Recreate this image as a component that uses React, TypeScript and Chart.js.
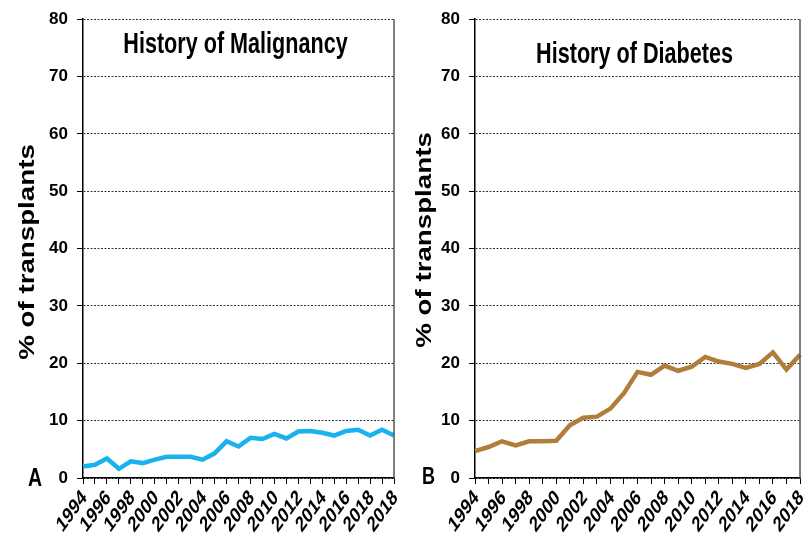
import React, { useEffect, useRef } from "react";
import { Chart, registerables } from "chart.js";

Chart.register(...registerables);

// ---------- data ----------
const categoriesA = [
  "1994", "1995", "1996", "1997", "1998", "1999", "2000", "2001", "2002",
  "2003", "2004", "2005", "2006", "2007", "2008", "2009", "2010", "2011",
  "2012", "2013", "2014", "2015", "2016", "2017", "2018", "2019", "2020",
];
const tickLabelsA = [
  "1994", "1996", "1998", "2000", "2002", "2004", "2006",
  "2008", "2010", "2012", "2014", "2016", "2018", "2018",
];
const malignancyValues = [
  2.0, 2.3, 3.4, 1.6, 2.9, 2.6, 3.2, 3.7, 3.7, 3.7, 3.2, 4.3, 6.4, 5.5,
  7.0, 6.8, 7.7, 6.9, 8.1, 8.2, 7.9, 7.4, 8.2, 8.4, 7.4, 8.4, 7.4,
];

const categoriesB = [
  "1994", "1995", "1996", "1997", "1998", "1999", "2000", "2001", "2002",
  "2003", "2004", "2005", "2006", "2007", "2008", "2009", "2010", "2011",
  "2012", "2013", "2014", "2015", "2016", "2017", "2018",
];
const tickLabelsB = [
  "1994", "1996", "1998", "2000", "2002", "2004", "2006",
  "2008", "2010", "2012", "2014", "2016", "2018",
];
const diabetesValues = [
  4.7, 5.4, 6.4, 5.7, 6.4, 6.4, 6.5, 9.2, 10.5, 10.7, 12.1, 14.8, 18.5,
  18.0, 19.6, 18.7, 19.4, 21.1, 20.3, 19.9, 19.2, 19.9, 21.9, 18.9, 21.5,
];

const yAxisTitle = "% of transplants";
const yMin = 0;
const yMax = 80;
const yStep = 10;

const FONT = '"Liberation Sans", Arial, Helvetica, sans-serif';
Chart.defaults.font.family = FONT;

type PanelProps = {
  categories: string[];
  tickLabels: string[];
  values: number[];
  color: string;
  title: string;
  letter: string;
  left: number;
  yWidth: number;
  padRight: number;
  titleDx: number;
  titleBaseline: number;
  yTitleX: number;
  yTitleY: number;
  letterX: number;
  letterBaseline: number;
  letterSize: number;
  letterScale: number;
};

const STRETCH = 1.36;

const decorPlugin = {
  id: "decor",
  afterDraw(chart: any, _args: any, opts: any) {
    const ctx = chart.ctx as CanvasRenderingContext2D;
    const a = chart.chartArea;
    ctx.save();
    // right frame line
    ctx.strokeStyle = "#555";
    ctx.lineWidth = 1.5;
    ctx.beginPath();
    ctx.moveTo(a.right, a.top);
    ctx.lineTo(a.right, a.bottom);
    ctx.stroke();

    ctx.fillStyle = "#000";

    // x tick labels (rotated, vertically stretched like the source figure)
    const xs = chart.scales.x;
    xs.ticks.forEach((t: any, i: number) => {
      const lbl = t.label;
      if (!lbl) return;
      const x = xs.getPixelForTick(i);
      ctx.save();
      ctx.translate(x + 1.5, xs.top + 16.5);
      ctx.scale(1, STRETCH);
      ctx.rotate(-Math.PI / 4);
      ctx.font = `bold 16px ${FONT}`;
      ctx.textAlign = "right";
      ctx.textBaseline = "middle";
      ctx.fillText(String(lbl), 0, 0);
      ctx.restore();
    });

    // panel title (vertically stretched)
    ctx.save();
    ctx.translate((a.left + a.right) / 2 + opts.titleDx, opts.titleBaseline);
    ctx.scale(1, STRETCH);
    ctx.font = `bold 21.6px ${FONT}`;
    ctx.textAlign = "center";
    ctx.textBaseline = "alphabetic";
    ctx.fillText(opts.title, 0, 0);
    ctx.restore();

    // y-axis title (stretched along its length)
    ctx.save();
    ctx.translate(opts.yTitleX, opts.yTitleY);
    ctx.rotate(-Math.PI / 2);
    ctx.scale(1.26, 1);
    ctx.font = `bold 22px ${FONT}`;
    ctx.textAlign = "center";
    ctx.textBaseline = "middle";
    ctx.fillText(opts.yTitle, 0, 0);
    ctx.restore();

    // panel letter
    ctx.save();
    ctx.translate(opts.letterX, opts.letterBaseline);
    ctx.scale(1, opts.letterScale);
    ctx.font = `bold ${opts.letterSize}px ${FONT}`;
    ctx.textAlign = "center";
    ctx.textBaseline = "alphabetic";
    ctx.fillText(opts.letter, 0, 0);
    ctx.restore();

    ctx.restore();
  },
};

function Panel(p: PanelProps) {
  const ref = useRef<HTMLCanvasElement | null>(null);
  useEffect(() => {
    if (!ref.current) return;
    const chart = new Chart(ref.current, {
      type: "line",
      data: {
        labels: p.categories,
        datasets: [
          {
            data: p.values,
            borderColor: p.color,
            backgroundColor: p.color,
            borderWidth: 4.5,
            pointRadius: 0,
            tension: 0,
            fill: false,
          },
        ],
      },
      options: {
        animation: false,
        responsive: false,
        layout: { padding: { top: 17, left: 0, right: p.padRight, bottom: 0 } },
        plugins: {
          legend: { display: false },
          tooltip: { enabled: false },
          decor: {
            title: p.title,
            titleDx: p.titleDx,
            titleBaseline: p.titleBaseline,
            yTitle: yAxisTitle,
            yTitleX: p.yTitleX,
            yTitleY: p.yTitleY,
            letter: p.letter,
            letterX: p.letterX,
            letterBaseline: p.letterBaseline,
            letterSize: p.letterSize,
            letterScale: p.letterScale,
          },
        } as any,
        scales: {
          x: {
            type: "category",
            offset: false,
            grid: {
              drawOnChartArea: false,
              drawTicks: true,
              tickLength: 6,
              tickColor: "#000",
              tickWidth: 1,
            },
            border: { display: true, color: "#000", width: 1.5 },
            ticks: {
              display: false,
              autoSkip: false,
              maxRotation: 0,
              minRotation: 0,
              callback: (_v: any, i: number) =>
                i % 2 === 0 ? p.tickLabels[i / 2] ?? "" : "",
            },
            afterFit: (s: any) => {
              s.height = 62;
            },
          },
          y: {
            min: yMin,
            max: yMax,
            grid: {
              color: "#333",
              lineWidth: 1,
              drawTicks: true,
              tickLength: 6,
              tickColor: "#000",
              tickWidth: 1,
              tickBorderDash: [],
            },
            border: { display: true, color: "#000", width: 1.5, dash: [2, 1.5] },
            ticks: {
              stepSize: yStep,
              padding: 9,
              color: "#000",
              font: { size: 17, weight: "bold" },
            },
            afterFit: (s: any) => {
              s.width = p.yWidth;
            },
          },
        },
      } as any,
      plugins: [decorPlugin],
    });
    return () => chart.destroy();
  }, []);
  return (
    <canvas
      ref={ref}
      width={403}
      height={540}
      style={{ position: "absolute", left: p.left, top: 0, width: 403, height: 540 }}
    />
  );
}

export default function App() {
  return (
    <div
      style={{
        position: "absolute",
        left: 0,
        top: 0,
        width: 806,
        height: 540,
        background: "#fff",
        overflow: "hidden",
      }}
    >
      <Panel
        categories={categoriesA}
        tickLabels={tickLabelsA}
        values={malignancyValues}
        color="#1ab2ee"
        title="History of Malignancy"
        letter="A"
        left={0}
        yWidth={83}
        padRight={9}
        titleDx={-3}
        titleBaseline={53}
        yTitleX={28}
        yTitleY={252}
        letterX={35}
        letterBaseline={486}
        letterSize={19.5}
        letterScale={1.36}
      />
      <Panel
        categories={categoriesB}
        tickLabels={tickLabelsB}
        values={diabetesValues}
        color="#b07d3a"
        title="History of Diabetes"
        letter="B"
        left={403}
        yWidth={72}
        padRight={6}
        titleDx={-3}
        titleBaseline={63}
        yTitleX={22}
        yTitleY={240}
        letterX={25.5}
        letterBaseline={484}
        letterSize={18}
        letterScale={1.32}
      />
    </div>
  );
}
